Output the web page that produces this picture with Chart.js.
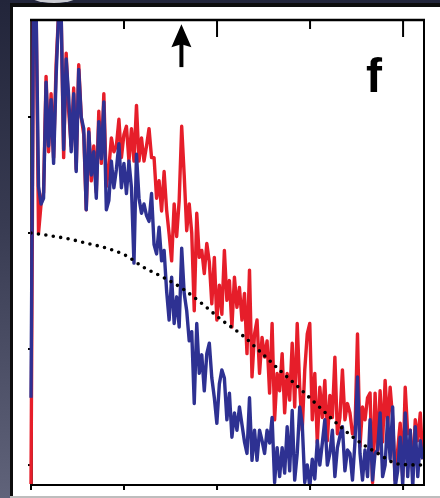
<!DOCTYPE html>
<html>
<head>
<meta charset="utf-8">
<script src="https://cdn.jsdelivr.net/npm/chart.js@4.4.1/dist/chart.umd.min.js"></script>
<style>
    html, body { margin: 0; padding: 0; }
    #wrap {
        position: relative; width: 440px; height: 498px; overflow: hidden;
        background: linear-gradient(to bottom, #22253a 0%, #383b52 45%, #60637a 100%);
    }
    #blob {
        position: absolute; left: 24px; top: -22px; width: 60px; height: 25px;
        border-radius: 50%; background: #c9cad1;
    }
    #panel {
        position: absolute; left: 10px; top: 3px; width: 430px; height: 493px;
        box-sizing: border-box; background: #fff;
        border-left: 3px solid #0d0d0d; border-top: 4px solid #0d0d0d;
    }
    #base {
        position: absolute; left: 10px; top: 496px; width: 430px; height: 2px; background: #bdbdbd;
    }
    #chart { position: absolute; left: 0; top: 0; }
    #letter {
        position: absolute; left: 366px; top: 52px;
        font: bold 48px 'Liberation Sans', Arial, sans-serif; line-height: 48px; color: #000;
    }
</style>
</head>
<body>
<div id="wrap">
    <div id="blob"></div>
    <div id="panel"></div>
    <div id="base"></div>
    <canvas id="chart" width="440" height="498"></canvas>
    <div id="letter">f</div>
</div>
<script>
// sample spacing along x (same for both traces)
const xStep = 0.027;

const redValues = [
    -0.17, 4.0, 4.0, 2.0, 2.25, 2.35, 3.35, 2.7, 3.2, 2.65, 3.45, 3.9, 3.9, 2.65, 3.55, 3.05,
    2.75, 3.25, 2.55, 3.45, 3.0, 2.85, 2.2, 2.9, 2.45, 2.75, 2.35, 3.05, 2.6, 3.2, 2.4,
    2.56, 2.82, 2.7, 2.75, 2.98, 2.65, 2.85, 2.92, 2.62, 2.9, 2.62, 3.1, 2.62, 2.82, 2.62,
    2.75, 2.9, 2.65, 2.65, 2.3, 2.45, 2.19, 2.53, 2.2, 1.99, 1.76, 2.25, 1.97, 2.28, 2.92, 2.5,
    2.02, 2.25, 2.0, 1.33, 2.17, 1.79, 1.85, 1.65, 1.91, 1.75, 1.39, 1.79, 1.25, 1.55, 1.3,
    1.85, 1.42, 1.59, 1.19, 1.62, 1.36, 1.53, 1.25, 1.48, 0.96, 1.68, 0.76, 1.13, 1.25, 0.79,
    1.1, 0.93, 1.07, 0.62, 1.22, 0.39, 0.79, 0.64, 0.96, 0.45, 0.79, 0.56, 1.05, 0.5, 1.22,
    0.67, 0.3, 0.82, 1.13, 1.22, 0.39, 0.79, 0.19, 0.67, 0.41, 0.73, 0.21, 0.6, 0.41, 0.93, 0.27,
    0.41, 0.82, 0.39, 0.53, 0.45, 0.27, 0.3, 1.13, 0.16, 0.5, 0.39, 0.58, 0.62, -0.15, 0.62,
    0.1, 0.64, 0.2, 0.73, 0.33, 0.67, 0.4, -0.13, 0.13, 0.36, -0.1, 0.67, 0.27, 0.3, -0.07,
    0.39, 0.21, 0.45, 0.05
];

const blueValues = [
    0.58, 4.0, 4.0, 2.4, 2.25, 2.3, 3.3, 2.75, 3.15, 2.6, 3.35, 3.9, 3.9, 2.72, 3.5, 3.18,
    2.7, 3.2, 2.53, 3.41, 3.0, 2.9, 2.2, 2.87, 2.5, 2.7, 2.3, 2.96, 2.64, 3.13, 2.2,
    2.28, 2.62, 2.39, 2.55, 2.77, 2.39, 2.6, 2.34, 2.62, 2.39, 1.74, 2.68, 2.3, 2.17, 2.25,
    2.15, 2.1, 2.34, 1.9, 1.82, 2.05, 1.76, 1.85, 1.5, 1.25, 1.62, 1.22, 1.45, 1.19, 1.87, 1.48,
    1.33, 1.07, 1.15, 0.53, 1.22, 0.79, 0.95, 0.64, 0.96, 1.05, 0.75, 0.58, 0.36, 0.7, 0.82,
    0.75, 0.39, 0.62, 0.24, 0.45, 0.3, 0.5, 0.35, 0.2, 0.1, 0.58, 0.04, 0.3, 0.04, 0.3,
    0.21, 0.1, 0.3, 0.19, 0.41, -0.15, 0.15, -0.1, 0.15, -0.07, 0.33, -0.05, 0.47, -0.13, 0.1,
    0.5, 0.35, -0.15, 0.0, -0.19, 0.05, -0.12, 0.21, 0.0, 0.19, 0.39, 0.0, 0.1, 0.3, -0.1, 0.15,
    0.25, 0.33, -0.05, 0.13, 0.1, -0.13, 0.2, 0.76, 0.1, -0.13, 0.13, -0.1, 0.39, -0.13, 0.1,
    0.13, 0.45, -0.1, 0.0, 0.41, 0.05, 0.5, -0.19, -0.05, 0.24, -0.17, 0.45, -0.1, 0.3, -0.19,
    0.33, -0.1, 0.21, 0.05
];

// dotted reference curve
const curveX = [0, 0.18, 0.40, 0.61, 0.81, 1.01, 1.22, 1.44, 1.63, 1.84, 2.05, 2.27, 2.46, 2.67, 2.89, 3.10, 3.30, 3.51, 3.73, 3.94, 4.21];
const curveY = [2.0, 1.98, 1.95, 1.91, 1.87, 1.81, 1.70, 1.61, 1.52, 1.39, 1.25, 1.12, 0.98, 0.82, 0.66, 0.50, 0.35, 0.21, 0.10, 0.01, 0.0];

const xTicks = [0, 1, 2, 3, 4];
const yTicks = [0, 1, 2, 3];
const topTicksLong = [2, 4];

// arrow marker
const arrowX = 1.617;
const arrowTipY = 3.80;
const arrowEndY = 3.43;


function toPoints(values) {
    return values.map((v, i) => ({ x: i * xStep, y: v }));
}


const framePlugin = {
    id: 'framePlugin',
    beforeDatasetsDraw(chart) {
        const { ctx, chartArea: a, scales: { y } } = chart;
        ctx.save();
        ctx.strokeStyle = '#000';
        ctx.lineWidth = 2.5;
        ctx.beginPath();
        ctx.moveTo(a.left + 0.5, a.top);
        ctx.lineTo(a.left + 0.5, a.bottom);
        ctx.stroke();
        ctx.lineWidth = 2;
        yTicks.forEach(t => {
            const py = y.getPixelForValue(t);
            ctx.beginPath();
            ctx.moveTo(a.left - 3, py);
            ctx.lineTo(a.left + 1, py);
            ctx.stroke();
        });
        ctx.restore();
    },
    afterDatasetsDraw(chart) {
        const { ctx, chartArea: a, scales: { x, y } } = chart;
        ctx.save();
        ctx.strokeStyle = '#000';
        ctx.fillStyle = '#000';

        // top, bottom, right
        ctx.lineWidth = 2.5;
        ctx.beginPath();
        ctx.moveTo(a.left - 1, a.top);
        ctx.lineTo(a.right + 1, a.top);
        ctx.stroke();
        ctx.lineWidth = 2;
        ctx.beginPath();
        ctx.moveTo(a.left - 1, a.bottom);
        ctx.lineTo(a.right + 1, a.bottom);
        ctx.moveTo(a.right, a.top);
        ctx.lineTo(a.right, a.bottom);
        ctx.stroke();

        xTicks.forEach(t => {
            const px = x.getPixelForValue(t);
            // bottom ticks point out
            ctx.beginPath();
            ctx.moveTo(px, a.bottom);
            ctx.lineTo(px, a.bottom + 5);
            ctx.stroke();
            // top ticks point in
            if (t > 0) {
                const len = topTicksLong.includes(t) ? 17 : 9;
                ctx.beginPath();
                ctx.moveTo(px, a.top);
                ctx.lineTo(px, a.top + len);
                ctx.stroke();
            }
        });

        // arrow
        const ax = x.getPixelForValue(arrowX);
        const tip = y.getPixelForValue(arrowTipY);
        const end = y.getPixelForValue(arrowEndY);
        ctx.beginPath();
        ctx.moveTo(ax, tip);
        ctx.lineTo(ax + 10, tip + 23);
        ctx.lineTo(ax, tip + 20);
        ctx.lineTo(ax - 10, tip + 23);
        ctx.closePath();
        ctx.fill();
        ctx.lineWidth = 4;
        ctx.beginPath();
        ctx.moveTo(ax, tip + 18);
        ctx.lineTo(ax, end);
        ctx.stroke();

        ctx.restore();
    }
};


const ctx = document.getElementById('chart').getContext('2d');

new Chart(ctx, {
    type: 'line',
    data: {
        datasets: [
            {
                label: 'model',
                data: curveX.map((v, i) => ({ x: v, y: curveY[i] })),
                borderColor: '#000',
                borderWidth: 3.6,
                borderDash: [0, 7.5],
                borderCapStyle: 'round',
                cubicInterpolationMode: 'monotone',
                pointRadius: 0,
                clip: 0
            },
            {
                label: 'blue',
                data: toPoints(blueValues),
                borderColor: '#2e3192',
                borderWidth: 3.4,
                borderJoinStyle: 'round',
                pointRadius: 0,
                tension: 0,
                clip: { left: 2, top: -1, right: 0, bottom: -1 }
            },
            {
                label: 'red',
                data: toPoints(redValues),
                borderColor: '#e61e2a',
                borderWidth: 3.4,
                borderJoinStyle: 'round',
                pointRadius: 0,
                tension: 0,
                clip: { left: 2, top: -1, right: 0, bottom: -1 }
            }
        ]
    },
    options: {
        responsive: false,
        animation: false,
        events: [],
        layout: { padding: { left: 31, top: 20, right: 16, bottom: 13 } },
        scales: {
            x: { type: 'linear', min: 0, max: 4.225, display: false },
            y: { type: 'linear', min: -0.172, max: 3.836, display: false }
        },
        plugins: {
            legend: { display: false },
            tooltip: { enabled: false }
        }
    },
    plugins: [framePlugin]
});
</script>
</body>
</html>
